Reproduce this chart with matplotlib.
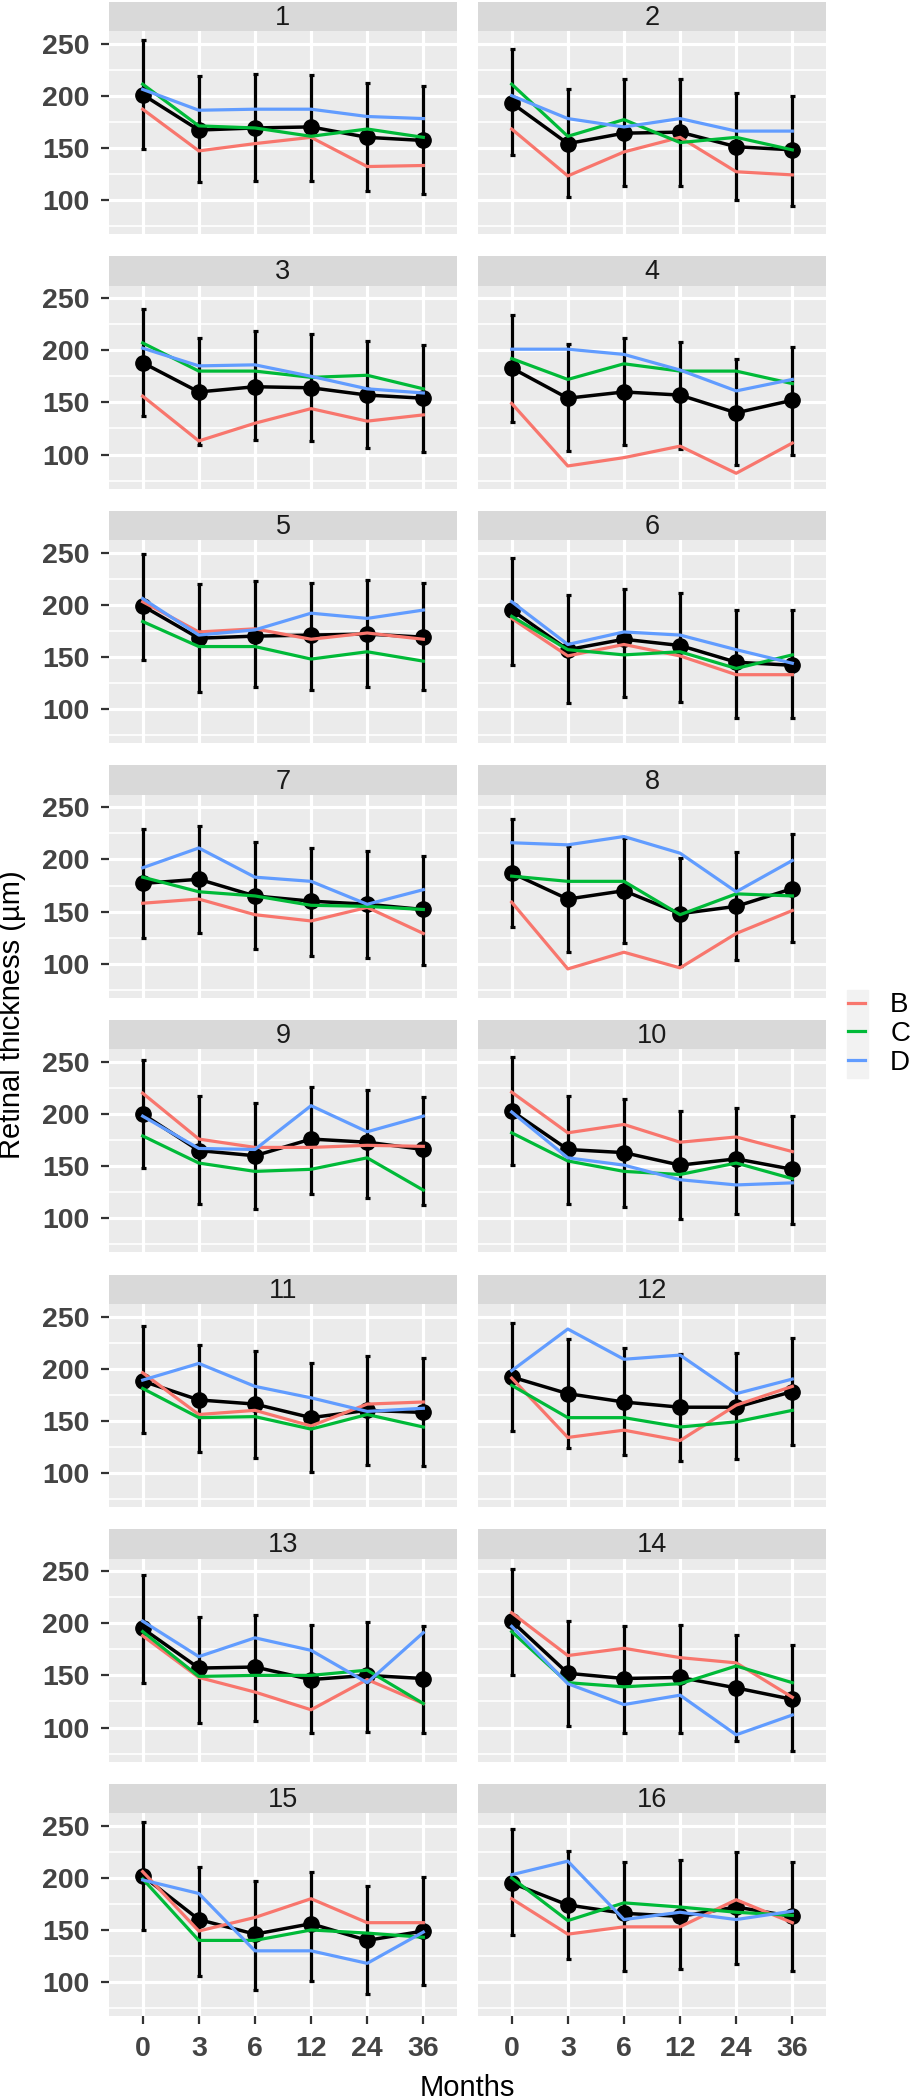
import matplotlib
matplotlib.use('Agg')
import matplotlib.pyplot as plt
import numpy as np
from matplotlib.lines import Line2D
from matplotlib.patches import Rectangle

plt.rcParams['font.family'] = ['Liberation Sans', 'DejaVu Sans']

# Meses del seguimiento (eje x discreto)
months = ['0', '3', '6', '12', '24', '36']

# Media (negro) y extremos de las barras de error, una lista por ojo/panel (1..16)
mean_vals = [
    [201, 167, 169, 170, 160, 157],
    [193, 154, 164, 165, 151, 148],
    [188, 160, 165, 164, 157, 154],
    [183, 154, 160, 157, 140, 152],
    [199, 168, 170, 171, 172, 169],
    [195, 157, 167, 161, 145, 142],
    [177, 181, 165, 160, 157, 152],
    [187, 162, 170, 148, 155, 172],
    [200, 165, 160, 176, 173, 166],
    [203, 166, 163, 151, 157, 147],
    [188, 170, 166, 153, 160, 158],
    [192, 176, 168, 163, 163, 178],
    [195, 157, 158, 146, 150, 147],
    [202, 152, 147, 148, 138, 127],
    [202, 160, 146, 156, 140, 149],
    [195, 174, 166, 163, 172, 163],
]
err_low = [
    [149, 117, 118, 118, 109, 106],
    [143, 103, 113, 113, 100, 94],
    [137, 109, 114, 113, 106, 102],
    [131, 103, 109, 105, 90, 100],
    [147, 116, 121, 118, 121, 118],
    [142, 106, 112, 107, 91, 91],
    [125, 129, 114, 107, 105, 99],
    [135, 111, 120, 98, 104, 121],
    [148, 114, 109, 123, 119, 113],
    [151, 114, 111, 99, 104, 95],
    [138, 120, 114, 101, 108, 107],
    [140, 124, 117, 111, 113, 127],
    [143, 104, 106, 95, 96, 95],
    [150, 101, 95, 95, 87, 77],
    [150, 106, 92, 101, 89, 97],
    [145, 122, 111, 113, 117, 111],
]
err_high = [
    [253, 219, 221, 220, 212, 209],
    [245, 206, 216, 216, 203, 200],
    [240, 212, 218, 216, 209, 205],
    [234, 206, 212, 208, 192, 203],
    [249, 220, 223, 221, 224, 221],
    [245, 209, 215, 211, 195, 195],
    [229, 232, 217, 211, 208, 203],
    [239, 213, 221, 201, 207, 224],
    [252, 217, 211, 226, 223, 216],
    [255, 217, 214, 203, 206, 198],
    [241, 223, 217, 205, 212, 210],
    [244, 228, 220, 214, 215, 229],
    [246, 206, 208, 198, 201, 197],
    [252, 202, 197, 198, 189, 179],
    [254, 210, 197, 206, 192, 201],
    [247, 226, 215, 217, 225, 215],
]

# Grupos B, C, D
b_vals = [
    [187, 147, 154, 160, 132, 133],
    [168, 123, 146, 160, 127, 124],
    [156, 113, 130, 144, 132, 138],
    [149, 89, 97, 108, 82, 111],
    [203, 174, 177, 167, 173, 167],
    [187, 151, 162, 151, 133, 133],
    [158, 162, 147, 141, 154, 129],
    [159, 95, 111, 96, 129, 151],
    [220, 176, 168, 168, 170, 169],
    [221, 182, 190, 173, 178, 164],
    [196, 156, 160, 145, 166, 168],
    [191, 134, 141, 131, 165, 183],
    [188, 148, 134, 117, 146, 123],
    [210, 169, 176, 167, 162, 129],
    [206, 149, 162, 180, 157, 157],
    [180, 146, 153, 153, 179, 157],
]
c_vals = [
    [211, 171, 169, 161, 168, 160],
    [211, 161, 177, 155, 160, 148],
    [207, 180, 180, 174, 176, 163],
    [192, 172, 187, 180, 180, 168],
    [184, 160, 160, 148, 155, 146],
    [189, 157, 152, 155, 139, 152],
    [183, 169, 165, 156, 155, 152],
    [184, 179, 179, 147, 167, 165],
    [179, 153, 145, 147, 158, 127],
    [182, 155, 145, 142, 153, 138],
    [181, 153, 154, 142, 156, 144],
    [184, 153, 153, 144, 149, 160],
    [192, 149, 150, 150, 155, 123],
    [192, 143, 139, 142, 159, 143],
    [199, 140, 140, 150, 147, 143],
    [200, 159, 176, 172, 167, 164],
]
d_vals = [
    [206, 186, 187, 187, 180, 178],
    [200, 178, 170, 178, 166, 166],
    [202, 185, 186, 175, 163, 159],
    [201, 201, 196, 181, 161, 172],
    [206, 171, 176, 192, 187, 195],
    [203, 162, 174, 171, 157, 144],
    [192, 211, 183, 179, 157, 171],
    [216, 214, 222, 206, 169, 199],
    [198, 167, 166, 208, 183, 198],
    [202, 158, 151, 137, 132, 134],
    [189, 205, 183, 172, 159, 162],
    [198, 238, 209, 213, 176, 190],
    [202, 168, 186, 174, 143, 191],
    [197, 142, 122, 131, 93, 112],
    [198, 185, 130, 130, 118, 148],
    [203, 216, 160, 167, 160, 168],
]

group_labels = ['B', 'C', 'D']
group_colors = ['#F8766D', '#00BA38', '#619CFF']

# Maquetacion en pixeles (figura 912 x 2100)
W, H = 912, 2100
col_left = [109, 478]
pw = 348
pitch = 254.6
strip_top, strip_h = 1.5, 29.5
panel_top, panel_h = 31, 203


def fr(x0, y0, w, h):
    return [x0 / W, 1 - (y0 + h) / H, w / W, h / H]


fig = plt.figure(figsize=(W / 100, H / 100), dpi=100)
x = np.arange(len(months))
series = [b_vals, c_vals, d_vals]

for i in range(16):
    row, col = i // 2, i % 2
    left = col_left[col]

    ax_s = fig.add_axes(fr(left, strip_top + row * pitch, pw, strip_h))
    ax_s.set_facecolor('#D9D9D9')
    ax_s.set_xticks([])
    ax_s.set_yticks([])
    for sp in ax_s.spines.values():
        sp.set_visible(False)
    ax_s.text(0.5, 0.45, str(i + 1), ha='center', va='center', fontsize=19.5,
              color='#1A1A1A', transform=ax_s.transAxes)

    ax = fig.add_axes(fr(left, panel_top + row * pitch, pw, panel_h))
    ax.set_facecolor('#EBEBEB')
    for sp in ax.spines.values():
        sp.set_visible(False)
    ax.set_axisbelow(True)
    ax.set_xlim(-0.6, 5.6)
    ax.set_ylim(67.3, 262)
    ax.set_xticks(x)
    ax.set_xticklabels(months)
    ax.set_yticks([100, 150, 200, 250])
    ax.set_yticks([75, 125, 175, 225], minor=True)
    ax.grid(which='major', color='white', lw=2.3)
    ax.grid(which='minor', axis='y', color='white', lw=1.2)
    ax.tick_params(which='minor', length=0)
    ax.tick_params(axis='both', which='major', length=6, width=1.6, color='#333333',
                   labelsize=20.5, labelcolor='#444444', pad=8)
    for lab in ax.get_xticklabels() + ax.get_yticklabels():
        lab.set_fontweight('bold')
    if col == 1:
        ax.tick_params(axis='y', length=0, labelleft=False)
    if row < 7:
        ax.tick_params(axis='x', length=0, labelbottom=False)

    m = np.array(mean_vals[i])
    lo = np.array(err_low[i])
    hi = np.array(err_high[i])
    ax.errorbar(x, m, yerr=[m - lo, hi - m], fmt='o-', color='black', ms=11,
                lw=2.5, elinewidth=2.3, capsize=1.8, capthick=2.3, zorder=3)
    for vals, c in zip(series, group_colors):
        ax.plot(x, vals[i], color=c, lw=2.3, zorder=4)

fig.text(467 / W, 1 - 2088 / H, 'Months', ha='center', va='center', fontsize=21)
fig.text(12 / W, 1 - 1015 / H, 'Retinal thickness (µm)', rotation=90,
         ha='center', va='center', fontsize=21)

# leyenda sin titulo con fondo gris en las claves
fig.patches.append(Rectangle((847 / W, 1 - 1078 / H), 21 / W, 88 / H,
                             transform=fig.transFigure, color='#F2F2F2', zorder=0))
handles = [Line2D([], [], color=c, lw=2.3) for c in group_colors]
fig.legend(handles, group_labels, loc='center left', bbox_to_anchor=(848 / W, 1 - 1034 / H),
           frameon=False, fontsize=20, handlelength=0.62, handletextpad=0.9,
           labelspacing=0.1, borderpad=0, borderaxespad=0)

fig.savefig('out.png', dpi=100)
